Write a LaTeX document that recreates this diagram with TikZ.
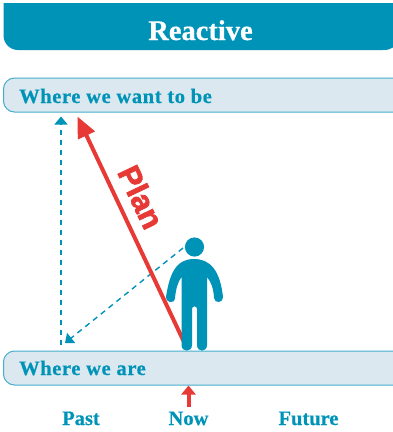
\documentclass[tikz,border=0pt]{standalone}
\usepackage{fontspec}
\setmainfont[BoldFeatures={FakeBold=0.6}]{Liberation Serif}
\newfontfamily\plansans[BoldFeatures={FakeBold=2.5}]{Liberation Sans}
\newfontfamily\panelfont[LetterSpace=3,BoldFeatures={FakeBold=0.6}]{Liberation Serif}
\usetikzlibrary{arrows.meta}
\definecolor{teal1}{HTML}{0093B8}
\definecolor{pale}{HTML}{DCE8F0}
\definecolor{edge1}{HTML}{45AECB}
\definecolor{red1}{HTML}{E73A36}
\tikzset{
  panel/.style={fill=pale,draw=edge1,line width=1pt,rounded corners=11pt},
  paneltext/.style={font=\panelfont\bfseries\fontsize{20.5}{23}\selectfont,text=teal1,anchor=base west,inner sep=0pt},
  axistext/.style={font=\bfseries\fontsize{20.5}{23}\selectfont,text=teal1,anchor=base,inner sep=0pt},
  dashline/.style={teal1,line width=1.4pt,dash pattern=on 5.5pt off 4.5pt},
  dashtip/.style={-{Triangle[length=8pt,width=13pt]}},
}
\begin{document}
\begin{tikzpicture}[x=1pt,y=-1pt]
\useasboundingbox (0,0) rectangle (393,432);
% header
\fill[teal1] (3.5,3) -- (393,3) -- (393,47.5) .. controls (390,49.5) and (387,50) .. (383,50) -- (18,50) arc[start angle=90,end angle=180,radius=14.5] -- cycle;
\node[font=\bfseries\fontsize{28.5}{32}\selectfont,text=white,anchor=base,inner sep=0pt] (title) at (200.5,40) {Reactive};
% panels
\draw[panel] (3.5,78) rectangle (405,112);
\draw[panel] (3.5,351) rectangle (405,385);
\node[paneltext] (want) at (19,103) {Where we want to be};
\node[paneltext] (are) at (19,375) {Where we are};
% coordinates
\coordinate (upA) at (61,116.5);
\coordinate (corner) at (61,345);
\coordinate (headL) at (183,248);
\coordinate (cornerB) at (65,343);
\coordinate (planS) at (184,342);
\coordinate (planE) at (77.5,116.5);
\coordinate (nowS) at (188.5,407);
\coordinate (nowE) at (188.5,385.5);
% dashed
\draw[dashline,dashtip] (corner) -- (upA);
\draw[dashline,dashtip] (headL) -- (cornerB);
% plan arrow
\draw[red1,line width=4pt,-{Triangle[length=21pt,width=18pt]}] (planS) -- (planE);
\node[font=\plansans\bfseries\fontsize{31}{33}\selectfont,text=red1,rotate=-64.5,inner sep=0pt] (plan) at (141,197) {Plan};
% person
\fill[teal1] (194.5,247) circle[radius=9.6];
\fill[teal1]
  (194,259) .. controls (178,259) and (170,270) .. (166,297)
  .. controls (165,302) and (174.5,305) .. (175,298)
  .. controls (176,288) and (178,282) .. (181.5,277)
  -- (181.5,345) .. controls (181.5,352.5) and (192,352.5) .. (192,345)
  -- (192,309) .. controls (192,305.5) and (197,305.5) .. (197,309)
  -- (197,345) .. controls (197,352.5) and (207,352.5) .. (207,345)
  -- (207,277)
  .. controls (211,282) and (213.5,288) .. (214,298)
  .. controls (214.5,304) and (223.5,303) .. (223,297)
  .. controls (220,270) and (210,259) .. (194,259) -- cycle;
% now arrow
\draw[red1,line width=4pt,-{Triangle[length=9pt,width=14pt]}] (nowS) -- (nowE);
% axis
\node[axistext] (past) at (81,425) {Past};
\node[axistext] (now) at (188.5,425) {Now};
\node[axistext] (future) at (308.5,425) {Future};
\end{tikzpicture}
\end{document}
